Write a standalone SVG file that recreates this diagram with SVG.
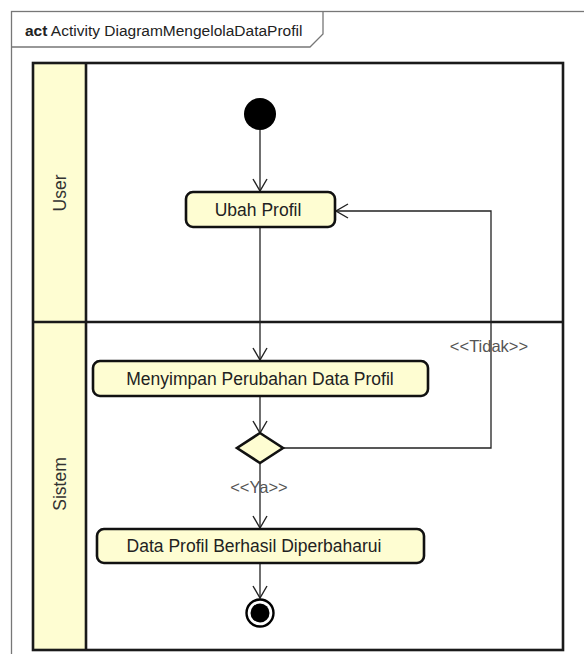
<svg xmlns="http://www.w3.org/2000/svg" width="584" height="654" viewBox="0 0 584 654">
  <style>
    text { font-family: "Liberation Sans", Arial, sans-serif; fill: #222; }
    .frame { fill: none; stroke: #777; stroke-width: 1.3; }
    .lane { fill: none; stroke: #1a1a1a; stroke-width: 2.6; }
    .lanehead { fill: #fefdd2; stroke: none; }
    .action { fill: #fefdd2; stroke: #111; stroke-width: 2.6; }
    .label { font-size: 17.5px; text-anchor: middle; }
    .lanelabel { font-size: 17.5px; text-anchor: middle; fill: #333; }
    .guard { font-size: 16.5px; fill: #555; text-anchor: middle; }
    .flow { fill: none; stroke: #222; stroke-width: 1.3; }
  </style>
  <defs>
    <marker id="open" viewBox="0 0 14 16" refX="13" refY="8" markerWidth="14" markerHeight="16" markerUnits="userSpaceOnUse" orient="auto">
      <path d="M1,1 L13,8 L1,15" fill="none" stroke="#222" stroke-width="1.4"/>
    </marker>
  </defs>

  <rect width="584" height="654" fill="#ffffff"/>

  <!-- diagram frame with name tab -->
  <g id="frame">
    <rect class="frame" x="11.5" y="11.5" width="600" height="660"/>
    <path class="frame" d="M11.5,47 H310 L323,34 V11.5"/>
    <text x="25" y="36" font-size="15.5"><tspan font-weight="bold">act</tspan> Activity DiagramMengelolaDataProfil</text>
  </g>

  <!-- swimlanes -->
  <g id="lanes">
    <rect class="lanehead" x="33" y="63" width="53" height="587"/>
    <rect class="lane" x="33" y="63" width="530" height="587"/>
    <line class="lane" x1="86" y1="63" x2="86" y2="650"/>
    <line class="lane" x1="33" y1="322" x2="563" y2="322"/>
    <text class="lanelabel" transform="translate(66,193) rotate(-90)">User</text>
    <text class="lanelabel" transform="translate(66,484) rotate(-90)">Sistem</text>
  </g>

  <!-- connectors -->
  <g id="connectors">
    <line class="flow" x1="260" y1="130" x2="260" y2="191" marker-end="url(#open)"/>
    <line class="flow" x1="260" y1="228" x2="260" y2="360" marker-end="url(#open)"/>
    <line class="flow" x1="260" y1="397" x2="260" y2="433" marker-end="url(#open)"/>
    <polyline class="flow" points="283,448 491,448 491,211 336,211" marker-end="url(#open)"/>
    <line class="flow" x1="260" y1="463" x2="260" y2="528" marker-end="url(#open)"/>
    <line class="flow" x1="260" y1="564" x2="260" y2="598" marker-end="url(#open)"/>
    <text class="guard" x="489" y="352">&lt;&lt;Tidak&gt;&gt;</text>
    <text class="guard" x="259" y="493">&lt;&lt;Ya&gt;&gt;</text>
  </g>

  <g id="initial">
    <circle cx="260" cy="114" r="16" fill="#000"/>
  </g>

  <g id="ubah-profil">
    <rect class="action" x="186" y="192" width="149" height="35" rx="7"/>
    <text class="label" x="258" y="216">Ubah Profil</text>
  </g>

  <g id="menyimpan">
    <rect class="action" x="93" y="361" width="335" height="35" rx="7"/>
    <text class="label" x="260" y="385">Menyimpan Perubahan Data Profil</text>
  </g>

  <g id="decision">
    <polygon class="action" points="260,433 283,448 260,463 237,448"/>
  </g>

  <g id="data-berhasil">
    <rect class="action" x="97" y="529" width="327" height="34" rx="7"/>
    <text class="label" x="254" y="552">Data Profil Berhasil Diperbaharui</text>
  </g>

  <g id="final">
    <circle cx="260" cy="613" r="13.5" fill="#fff" stroke="#000" stroke-width="2.4"/>
    <circle cx="260" cy="613" r="9.5" fill="#000"/>
  </g>
</svg>
